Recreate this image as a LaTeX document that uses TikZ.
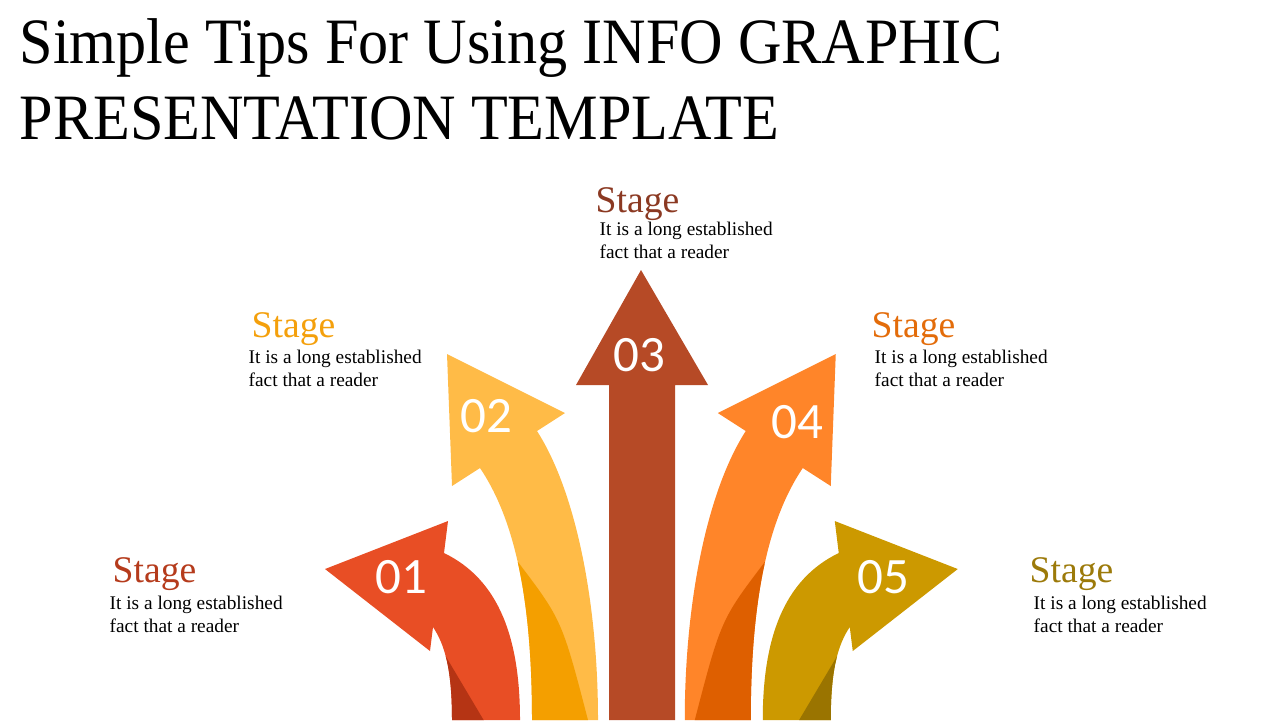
\documentclass[tikz,border=0pt]{standalone}
\usepackage{fontspec}
\setmainfont{Liberation Serif}
\newfontfamily\titlefont[FakeStretch=0.93]{Liberation Serif}
\newfontfamily\numfont{Carlito}
\definecolor{redA}{HTML}{E84E25}
\definecolor{redB}{HTML}{B53414}
\definecolor{yelA}{HTML}{FFBB47}
\definecolor{yelB}{HTML}{F49F00}
\definecolor{rust}{HTML}{B64A26}
\definecolor{orgA}{HTML}{FF8529}
\definecolor{orgB}{HTML}{DE5F00}
\definecolor{gldA}{HTML}{CC9900}
\definecolor{gldB}{HTML}{9A7400}
\definecolor{hdone}{HTML}{B53B1C}
\definecolor{hdtwo}{HTML}{F4A00C}
\definecolor{hdthree}{HTML}{8B3922}
\definecolor{hdfour}{HTML}{E36C0A}
\definecolor{hdfive}{HTML}{9C7A0A}
% outlines of the two bent arrows (pixel units)
\def\curlpath{(452,720) .. controls (452,670) and (445,645) .. (433,627) -- (430,651)
  -- (325,569) -- (448,521) -- (444,553) .. controls (500,580) and (520,640) .. (520,720) -- cycle}
\def\bendpath{(532,720) .. controls (532,600) and (515,520) .. (480,468) -- (452,486)
  -- (447,354) -- (565,413) -- (537,431) .. controls (575,490) and (598,600) .. (598,720) -- cycle}
\begin{document}
\begin{tikzpicture}[x=0.01cm,y=-0.01cm,
    stagehead/.style={anchor=base west,inner sep=0pt,font=\fontsize{10.7}{12}\selectfont},
    stagetext/.style={anchor=base west,inner sep=0pt,align=left,font=\fontsize{5.5}{6.52}\selectfont},
    stagenum/.style={text=white,inner sep=0pt,font=\numfont\fontsize{14.5}{16}\selectfont}]
  \useasboundingbox (0,0) rectangle (1280,720);
  \node[anchor=base west,inner sep=0pt,align=left,font=\titlefont\fontsize{18.4}{21.5}\selectfont]
    (title) at (19,139) {Simple Tips For Using INFO GRAPHIC\\PRESENTATION TEMPLATE};
  % left arrows
  \fill[redA] \curlpath;
  \begin{scope}
    \clip \curlpath;
    \fill[redB] (442,650) -- (486,724) -- (400,724) -- cycle;
  \end{scope}
  \fill[yelA] \bendpath;
  \begin{scope}
    \clip \bendpath;
    \fill[yelB] (518,562) .. controls (562,620) .. (589,724) -- (500,724) -- cycle;
  \end{scope}
  % middle arrow
  \fill[rust] (609,720) -- (609,385) -- (576,385) -- (641,270) -- (708,385) -- (675,385) -- (675,720) -- cycle;
  % right arrows, mirrored
  \begin{scope}[xshift=12.82cm,xscale=-1]
    \fill[gldA] \curlpath;
    \begin{scope}
      \clip \curlpath;
      \fill[gldB] (442,650) -- (486,724) -- (400,724) -- cycle;
    \end{scope}
    \fill[orgA] \bendpath;
    \begin{scope}
      \clip \bendpath;
      \fill[orgB] (518,562) .. controls (562,620) .. (589,724) -- (500,724) -- cycle;
    \end{scope}
  \end{scope}
  % numbers
  \node[stagenum] (n1) at (401,577) {01};
  \node[stagenum] (n2) at (486,416) {02};
  \node[stagenum] (n3) at (639,355) {03};
  \node[stagenum] (n4) at (797,422) {04};
  \node[stagenum] (n5) at (883,577) {05};
  % labels
  \node[stagehead,text=hdone] (h1) at (112,582) {Stage};
  \node[stagetext] (t1) at (109,632) {It is a long established\\fact that a reader};
  \node[stagehead,text=hdtwo] (h2) at (251,337) {Stage};
  \node[stagetext] (t2) at (248,386) {It is a long established\\fact that a reader};
  \node[stagehead,text=hdthree] (h3) at (595,212) {Stage};
  \node[stagetext] (t3) at (599,258) {It is a long established\\fact that a reader};
  \node[stagehead,text=hdfour] (h4) at (871,337) {Stage};
  \node[stagetext] (t4) at (874,386) {It is a long established\\fact that a reader};
  \node[stagehead,text=hdfive] (h5) at (1029,582) {Stage};
  \node[stagetext] (t5) at (1033,632) {It is a long established\\fact that a reader};
\end{tikzpicture}
\end{document}
